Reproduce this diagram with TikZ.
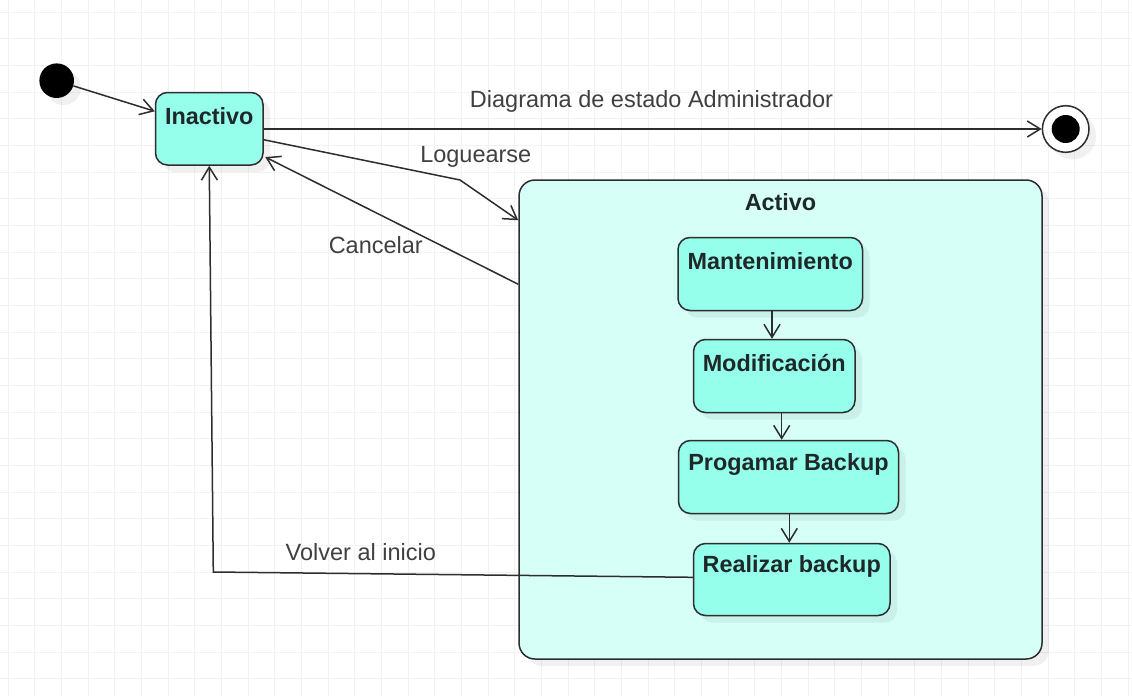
\documentclass[tikz,border=0pt]{standalone}
\usepackage{fontspec}
\setmainfont{Liberation Sans}
\usetikzlibrary{arrows.meta,shadows,calc}
\definecolor{statefill}{RGB}{150,255,235}
\definecolor{boxfill}{RGB}{214,255,248}
\definecolor{edgecol}{RGB}{45,45,45}
\definecolor{lblcol}{RGB}{64,64,64}
\definecolor{gridcol}{RGB}{242,242,242}
\definecolor{txtcol}{RGB}{30,40,40}
\begin{document}
\begin{tikzpicture}[x=1pt,y=-1pt,
  softshadow/.style={drop shadow={shadow xshift=7pt,shadow yshift=-7pt,fill=black,opacity=0.06}},
  statebox/.style={draw=edgecol,line width=1.5pt,fill=statefill,rounded corners=12pt,inner sep=0pt,softshadow},
  activobox/.style={draw=edgecol,line width=1.5pt,fill=boxfill,rounded corners=16pt,inner sep=0pt,softshadow},
  statetext/.style={font=\fontsize{23.4}{27}\selectfont\bfseries,text=txtcol,inner sep=0pt},
  lbltext/.style={font=\fontsize{23.5}{27}\selectfont,text=lblcol,inner sep=0pt},
  trans/.style={draw=edgecol,line width=1.5pt,-{Straight Barb[length=13pt,width=16pt,line width=1.5pt]}},
  plainline/.style={draw=edgecol,line width=1.5pt}]
% background and grid
\fill[white] (0,0) rectangle (1132,696);
\useasboundingbox (0,0) rectangle (1132,696);
\foreach \i in {0,...,42} \draw[gridcol,line width=1pt] ({8.3+26.667*\i},0) -- ({8.3+26.667*\i},696);
\foreach \j in {0,...,26} \draw[gridcol,line width=1pt] (0,{12+26.667*\j}) -- (1132,{12+26.667*\j});

% composite state
\node[activobox,minimum width=523pt,minimum height=479pt] (act) at (780.5,419.5) {};
\node[statetext] (acttitle) at ([yshift=-22.7pt]act.north) {Activo};

% states
\node[statebox,minimum width=107.5pt,minimum height=72.5pt] (ina) at (209.25,128.75) {};
\node[statetext] (inat) at ([yshift=-24.5pt]ina.north) {Inactivo};
\node[statebox,minimum width=184.5pt,minimum height=73pt] (mant) at (770.25,274) {};
\node[statetext] (mantt) at ([yshift=-24.5pt]mant.north) {Mantenimiento};
\node[statebox,minimum width=161.5pt,minimum height=73pt] (modi) at (774.25,376) {};
\node[statetext] (modit) at ([yshift=-24pt]modi.north) {Modificación};
\node[statebox,minimum width=220pt,minimum height=73pt] (prog) at (788.5,477) {};
\node[statetext] (progt) at ([yshift=-24.5pt]prog.north) {Progamar Backup};
\node[statebox,minimum width=196.5pt,minimum height=72pt] (real) at (791.75,579.5) {};
\node[statetext] (realt) at ([yshift=-23.5pt]real.north) {Realizar backup};

% initial and final
\node[circle,fill=black,minimum size=34.6pt,inner sep=0pt,softshadow] (init) at (56.7,80.7) {};
\node[circle,draw=edgecol,line width=1.5pt,fill=white,minimum size=46.6pt,inner sep=0pt,softshadow] (fin) at (1065.7,129) {};
\fill[black] (fin.center) circle (14);

% helper coordinates
\coordinate (xa) at (772,0);
\coordinate (xb) at (781.7,0);
\coordinate (xc) at (789.3,0);
\coordinate (lgbend) at (460,180);
\coordinate (vcorner) at (213.3,572);

% transitions
\draw[trans] (init) -- ($(ina.west)+(0,-17.5)$);
\draw[trans] (fin.center -| ina.east) -- (fin.west);
\draw[trans] ($(ina.east)+(0,11)$) -- (lgbend) -- ($(act.north west)+(0,41)$);
\draw[trans] ($(act.north west)+(0,105)$) -- ($(ina.east)+(1.5,28.3)$);
\draw[trans] (mant.south -| xa) -- (modi.north -| xa);
\draw[trans] (modi.south -| xb) -- (prog.north -| xb);
\draw[trans] (prog.south -| xc) -- (real.north -| xc);
\draw[trans] ($(real.west)+(0,-2.2)$) -- (vcorner) -- (ina.south);

% labels
\node[lbltext] (ldiag) at (651.5,101.7) {Diagrama de estado Administrador};
\node[lbltext] (llog) at (475.8,156.7) {Loguearse};
\node[lbltext] (lcan) at (375.8,245) {Cancelar};
\node[lbltext] (lvol) at (360.8,552.3) {Volver al inicio};
\end{tikzpicture}
\end{document}
